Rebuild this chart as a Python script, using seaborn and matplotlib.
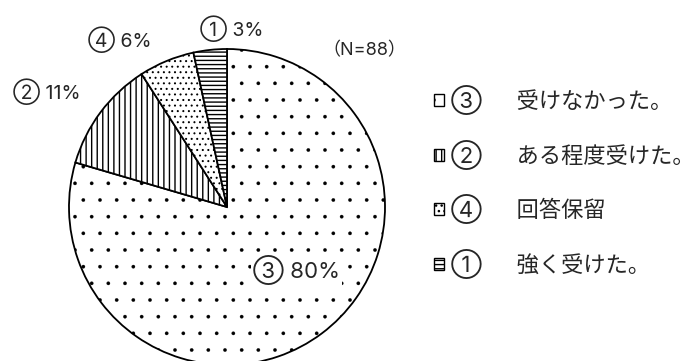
import matplotlib
matplotlib.use("Agg")
import matplotlib.pyplot as plt
import seaborn as sns

sns.set_theme(style="white")
plt.rcParams['font.family'] = ['Inter', 'Noto Sans CJK JP', 'DejaVu Sans']
plt.rcParams['hatch.color'] = 'black'

# 回答数 (N=88)
codes = ['③', '②', '④', '①']
answers = ['受けなかった。', 'ある程度受けた。', '回答保留', '強く受けた。']
counts = [70, 10, 5, 3]
percents = [80, 11, 6, 3]
hatches = ['.', '|||', '...', '----']
hatch_lw = [0.2, 1.0, 0.7, 1.0]

# ラベル位置 (円の半径=1 基準)
label_pos = [(0.44, -0.40), (-1.14, 0.73), (-0.68, 1.06), (0.03, 1.13)]
label_size = [16, 14, 14, 14]

fig = plt.figure(figsize=(6.98, 3.61), dpi=100)
ax = fig.add_axes([69 / 698, -4 / 361, 316 / 698, 316 / 361])

wedges, _ = ax.pie(counts, startangle=90, counterclock=False,
                   colors=['white'] * 4,
                   wedgeprops=dict(edgecolor='black', linewidth=1.3))
for w, h, lw in zip(wedges, hatches, hatch_lw):
    w.set_hatch(h)
    if hasattr(w, 'set_hatch_linewidth'):
        w.set_hatch_linewidth(lw)
    w.set_clip_on(False)

for (x, y), c, p, fs in zip(label_pos, codes, percents, label_size):
    ax.text(x, y, f'{c} {p}%', ha='center', va='center', fontsize=fs,
            bbox=dict(facecolor='white', edgecolor='none', pad=1.5) if p == 80 else None)

ax.text(0.87, 0.99, '（N=88）', ha='center', va='center', fontsize=13)

ax.set_xlim(-1, 1)
ax.set_ylim(-1, 1)
ax.set_aspect('equal')
ax.axis('off')

leg_labels = [f'{c}\u3000  {a}' for c, a in zip(codes, answers)]
leg = fig.legend(wedges, leg_labels, loc='center left', bbox_to_anchor=(425 / 698, 179 / 361),
                 frameon=False, fontsize=16, handlelength=0.45, handleheight=0.45,
                 handletextpad=0.3, labelspacing=1.1, borderaxespad=0)
for p in leg.get_patches():
    p.set_linewidth(1.0)

fig.savefig('out.png', dpi=100)
